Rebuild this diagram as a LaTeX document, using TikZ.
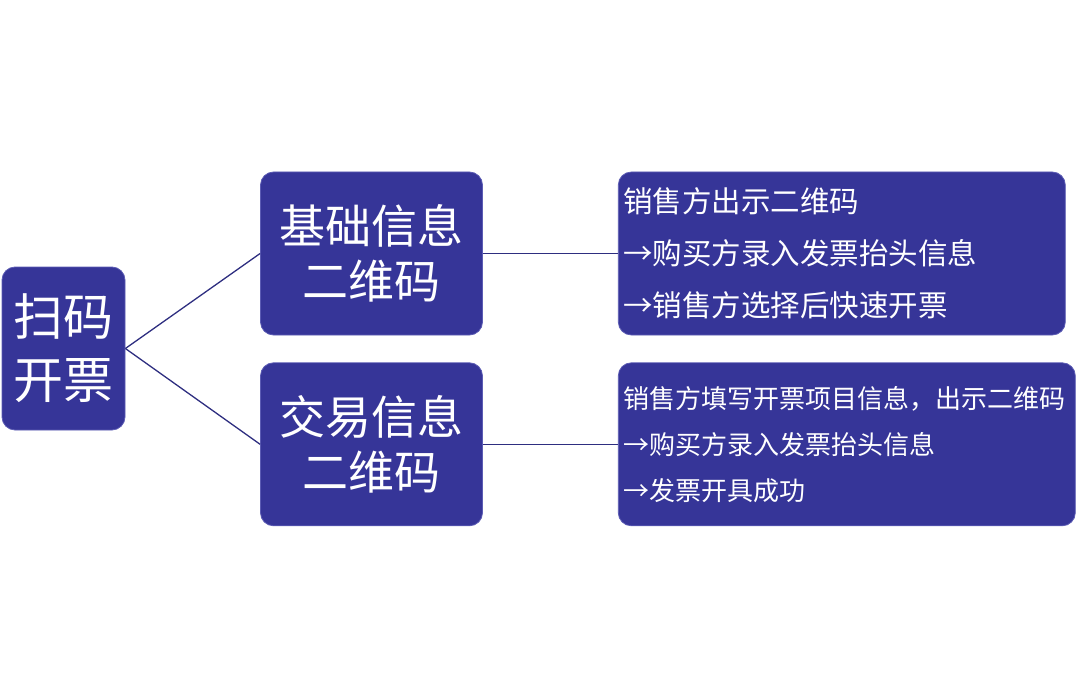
\documentclass[tikz,border=0pt]{standalone}
\usepackage{fontspec}
\usepackage{xcolor}
\usepackage{tikz}
\usetikzlibrary{positioning}

\newfontfamily\cjk{Noto Sans CJK SC}
\definecolor{boxblue}{RGB}{54,53,152}
\definecolor{boxedge}{RGB}{92,92,180}
\definecolor{linkblue}{RGB}{46,46,128}

\begin{document}
\begin{tikzpicture}[x=1pt, y=-1pt, semithick,
  card/.style={draw=boxedge, line width=0.8pt, fill=boxblue, rounded corners=13pt,
    text=white, minimum height=163pt, inner sep=0pt},
  root/.style={card, minimum width=123pt, align=center, font=\cjk\fontsize{50}{63}\selectfont},
  branch/.style={card, minimum width=222pt, align=center, font=\cjk\fontsize{46}{55}\selectfont},
  leaf/.style={card, inner xsep=5pt, align=left},
  link/.style={draw=linkblue, line width=1.3pt}]

\useasboundingbox (0,0) rectangle (1080,698);

\node[root]   (Scan)   at (63.5,348.5)     {扫码\\开票};
\node[branch] (Basic)  at (371.5,253.5)    {基础信息\\二维码};
\node[branch] (Trade)  [below=27pt of Basic] {交易信息\\二维码};
\node[leaf, text width=437pt, font=\cjk\fontsize{29.5}{52}\selectfont]
      (BasicSteps) [right=135pt of Basic]
      {销售方出示二维码\\→购买方录入发票抬头信息\\→销售方选择后快速开票};
\node[leaf, text width=447pt, font=\cjk\fontsize{26}{46}\selectfont]
      (TradeSteps) [right=135pt of Trade]
      {销售方填写开票项目信息，出示二维码\\→购买方录入发票抬头信息\\→发票开具成功};

\path[link] (Scan.east) -- (Basic.west);
\path[link] (Scan.east) -- (Trade.west);
\path[link] (Basic.east) -- (BasicSteps.west);
\path[link] (Trade.east) -- (TradeSteps.west);

\end{tikzpicture}
\end{document}
